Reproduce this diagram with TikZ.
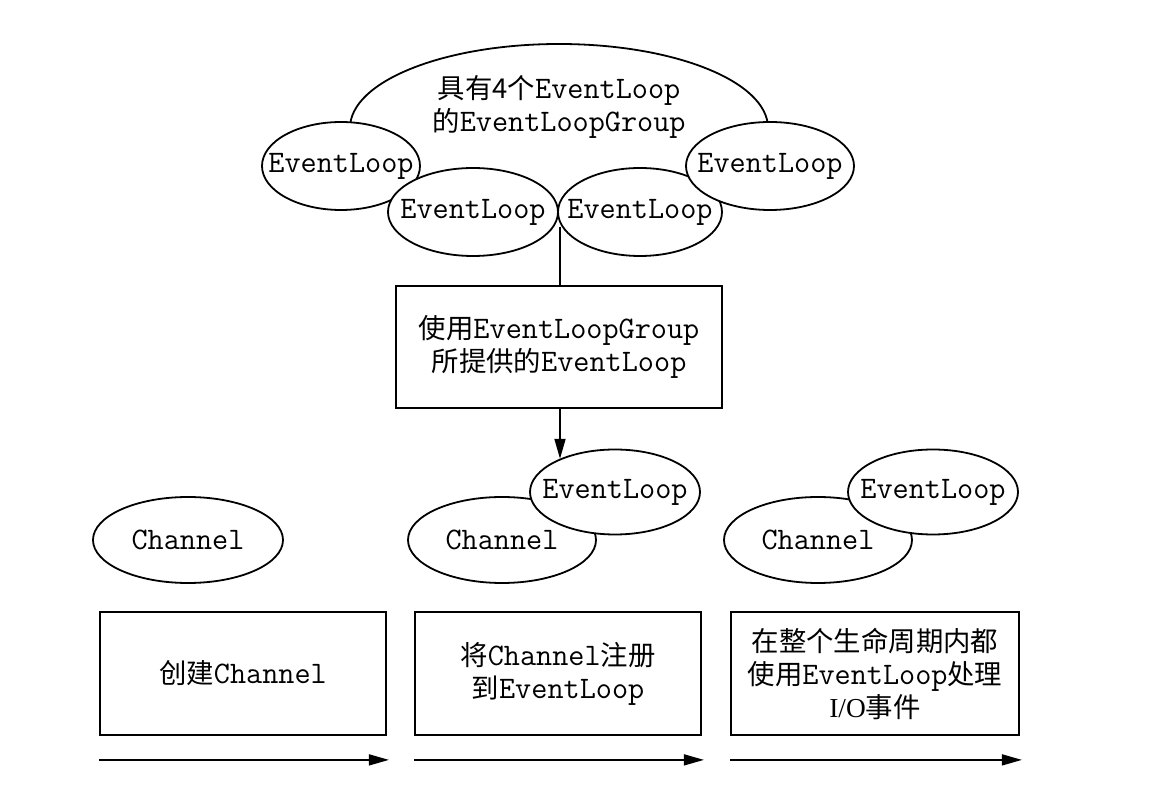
\documentclass[tikz,border=0pt]{standalone}
\usepackage{fontspec}
\setmainfont{Liberation Serif}
\setmonofont[Scale=1.143]{Latin Modern Mono}
\newfontfamily\cjk{Noto Sans CJK SC}
\usetikzlibrary{arrows.meta,shapes.geometric}
\newcommand{\zh}[1]{{\cjk #1}}
\newcommand{\nowide}[1]{\makebox[0pt]{#1}}
\tikzset{
  oval/.style={ellipse, draw, fill=white, line width=0.9pt, inner sep=0pt},
  loopoval/.style={oval, minimum width=82pt, minimum height=44pt},
  chanoval/.style={oval, minimum width=95pt, minimum height=43pt},
  stepbox/.style={draw, line width=0.9pt, minimum width=143pt, minimum height=61.5pt, align=center},
}

\begin{document}
\begin{tikzpicture}[x=0.5pt, y=-0.5pt, >={Triangle[length=10pt,width=5.5pt]},
    font=\fontsize{13.7pt}{16.5pt}\selectfont\ttfamily]
    \useasboundingbox (0,0) rectangle (1164,796);
    % EventLoopGroup
    \node [oval, minimum width=209pt, minimum height=84pt] (group) at (559,128) {};
    \node [align=center] (grouptxt) at (559,107) {\zh{具有4个}EventLoop\\\zh{的}EventLoopGroup};
    \node [loopoval, minimum width=79pt] (elA) at (341,166) {\nowide{EventLoop}};
    \node [loopoval, minimum width=85pt] (elB) at (473,212) {\nowide{EventLoop}};
    \node [loopoval] (elC) at (640,212) {\nowide{EventLoop}};
    \node [loopoval, minimum width=84pt] (elD) at (770,166) {\nowide{EventLoop}};
    \coordinate (join) at (560,227);

    % EventLoop in use
    \node [stepbox, minimum width=163pt, minimum height=61pt] (pick) at (559,347)
        {\zh{使用}EventLoopGroup\\\zh{所提供的}EventLoop};

    % Channels
    \node [chanoval] (chA) at (188,540) {\nowide{Channel}};
    \node [chanoval, minimum width=94pt] (chB) at (502,540) {\nowide{Channel}};
    \node [loopoval, minimum width=85pt, minimum height=42.5pt] (elE) at (615,492) {\nowide{EventLoop}};
    \node [chanoval, minimum width=94pt] (chC) at (818,540) {\nowide{Channel}};
    \node [loopoval, minimum width=85pt, minimum height=42.5pt] (elF) at (933,492) {\nowide{EventLoop}};

    % Steps
    \node [stepbox] (stepA) at (243,673.5) {\zh{创建}Channel};
    \node [stepbox] (stepB) at (558,673.5) {\zh{将}Channel\zh{注册}\\\zh{到}EventLoop};
    \node [stepbox, minimum width=144pt] (stepC) at (875,673.5)
        {\zh{在整个生命周期内都}\\\zh{使用}EventLoop\zh{处理}\\{\rmfamily I/O}\zh{事件}};

    % Connectors
    \draw [line width=0.9pt] (join) -- (join |- pick.north);
    \draw [->, line width=0.9pt] (join |- pick.south) -- (join |- elE.149);
    \foreach \s in {stepA, stepB, stepC}
        \draw [->, line width=0.8pt] ([yshift=-12pt]\s.south west) -- ([yshift=-12pt,xshift=1pt]\s.south east);
\end{tikzpicture}
\end{document}
